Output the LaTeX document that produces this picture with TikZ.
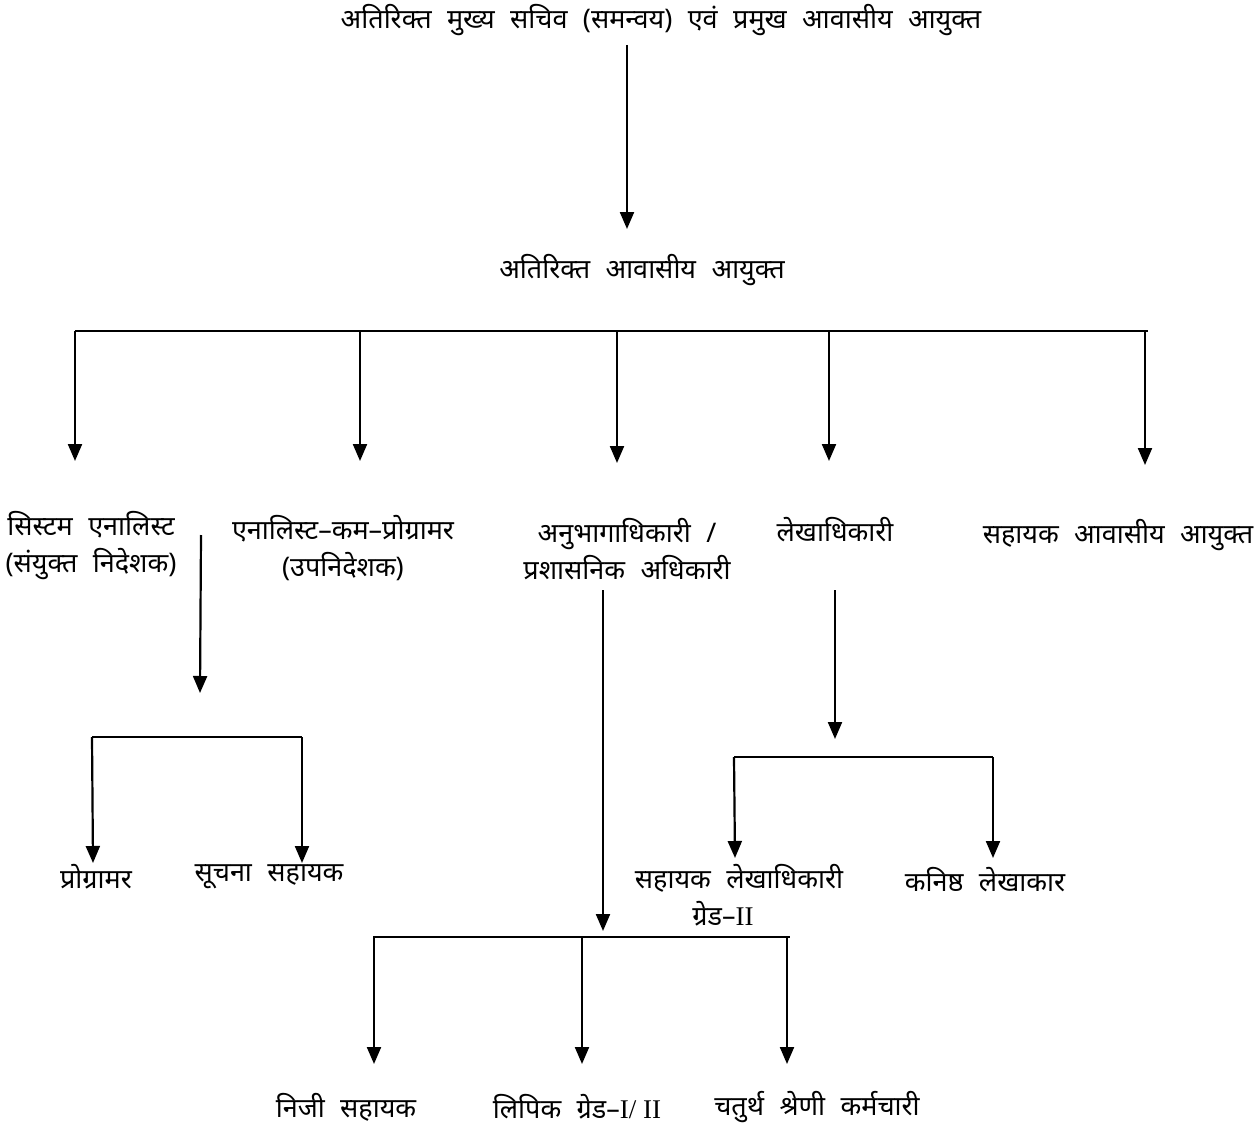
\documentclass[tikz,border=0pt]{standalone}
\usepackage{fontspec}
\newfontfamily\hindi[Script=Devanagari,WordSpace=2.2]{Noto Sans}
\newfontfamily\lat{Liberation Serif}
\usetikzlibrary{arrows.meta}
\begin{document}
\begin{tikzpicture}[x=1pt,y=-1pt,
  lbl/.style={font=\hindi\fontsize{27}{37}\selectfont, inner sep=0pt, align=center},
  ln/.style={line width=2.2pt},
  arr/.style={line width=2.2pt,-{Triangle[length=17pt,width=14pt]}}]
\useasboundingbox (0,0) rectangle (1259,1129);
% nodes
\node[lbl] (top) at (661,20) {अतिरिक्त मुख्य सचिव (समन्वय) एवं प्रमुख आवासीय आयुक्त};
\node[lbl] (ara) at (642,270) {अतिरिक्त आवासीय आयुक्त};
\node[lbl] (sa) at (91,546) {सिस्टम एनालिस्ट\\(संयुक्त निदेशक)};
\node[lbl] (acp) at (343,548) {एनालिस्ट–कम–प्रोग्रामर\\(उपनिदेशक)};
\node[lbl] (so) at (627,549) {अनुभागाधिकारी /\\प्रशासनिक अधिकारी};
\node[lbl] (ao) at (835,530) {लेखाधिकारी};
\node[lbl] (ara2) at (1118,535) {सहायक आवासीय आयुक्त};
\node[lbl] (prog) at (96,877) {प्रोग्रामर};
\node[lbl] (info) at (269,877) {सूचना सहायक};
\node[lbl] (aao) at (739,895) {सहायक लेखाधिकारी\\ग्रेड–{\lat II}\hspace*{32pt}};
\node[lbl] (jac) at (985,880) {कनिष्ठ लेखाकार};
\node[lbl] (pa) at (346,1107) {निजी सहायक};
\node[lbl] (clerk) at (577,1107) {लिपिक ग्रेड–{\lat I/ II}};
\node[lbl] (cls4) at (817,1107) {चतुर्थ श्रेणी कर्मचारी};
% coordinates
\coordinate (t1) at (627,45);
\coordinate (t2) at (627,229);
\coordinate (bL) at (75,331);
\coordinate (bR) at (1148,331);
\coordinate (b1) at (75,331);
\coordinate (b2) at (360,331);
\coordinate (b3) at (617,331);
\coordinate (b4) at (829,331);
\coordinate (b5) at (1145,331);
\coordinate (e1) at (75,461);
\coordinate (e2) at (360,461);
\coordinate (e3) at (617,463);
\coordinate (e4) at (829,461);
\coordinate (e5) at (1145,465);
% systems analyst branch
\coordinate (s0) at (201,535);
\coordinate (s1) at (200,693);
\coordinate (sL) at (92,737);
\coordinate (sR) at (302,737);
\coordinate (sd1) at (93,863);
\coordinate (sd2) at (302,863);
% section officer branch
\coordinate (o0) at (603,590);
\coordinate (o1) at (603,931);
\coordinate (oL) at (373,937);
\coordinate (oR) at (790,937);
\coordinate (oa) at (374,937);
\coordinate (ob) at (582,937);
\coordinate (oc) at (787,937);
\coordinate (od1) at (374,1064);
\coordinate (od2) at (582,1064);
\coordinate (od3) at (787,1064);
% accounts officer branch
\coordinate (a0) at (835,590);
\coordinate (a1) at (835,739);
\coordinate (aL) at (734,757);
\coordinate (aR) at (993,757);
\coordinate (ad1) at (735,858);
\coordinate (ad2) at (993,858);
% connectors
\draw[arr] (t1) -- (t2);
\draw[ln] (bL) -- (bR);
\foreach \i in {1,...,5} { \draw[arr] (b\i) -- (e\i); }
\draw[arr] (s0) -- (s1);
\draw[ln] (sL) -- (sR);
\draw[arr] (sL) -- (sd1);
\draw[arr] (sR) -- (sd2);
\draw[arr] (o0) -- (o1);
\draw[ln] (oL) -- (oR);
\draw[arr] (oa) -- (od1);
\draw[arr] (ob) -- (od2);
\draw[arr] (oc) -- (od3);
\draw[arr] (a0) -- (a1);
\draw[ln] (aL) -- (aR);
\draw[arr] (aL) -- (ad1);
\draw[arr] (aR) -- (ad2);
\end{tikzpicture}
\end{document}
